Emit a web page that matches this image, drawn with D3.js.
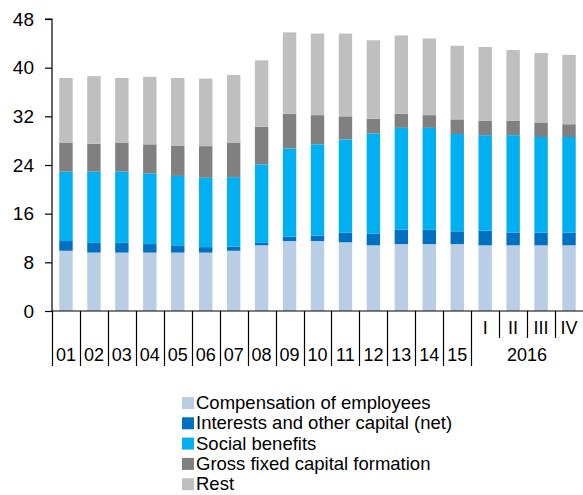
<!DOCTYPE html>
<html>
<head>
<meta charset="utf-8">
<script src="https://cdn.jsdelivr.net/npm/d3@7"></script>
<style>
  body { margin: 0; background: #fff; }
  svg text { font-family: "Liberation Sans", Arial, sans-serif; fill: #000; }
</style>
</head>
<body>
<div id="chart"></div>
<script>
// categories: years 2001-2015, then 2016 quarters
const categories = ["01", "02", "03", "04", "05", "06", "07", "08", "09", "10", "11", "12", "13", "14", "15", "I", "II", "III", "IV"];
const yearLabels = ["01", "02", "03", "04", "05", "06", "07", "08", "09", "10", "11", "12", "13", "14", "15"];
const quarterLabels = ["I", "II", "III", "IV"];
const quarterYear = "2016";
const yTicks = [0, 8, 16, 24, 32, 40, 48];

const compensation = [9.9, 9.6, 9.6, 9.6, 9.6, 9.6, 9.9, 10.8, 11.5, 11.5, 11.3, 10.8, 11.0, 11.0, 11.0, 10.8, 10.8, 10.8, 10.8];
const interests = [1.6, 1.6, 1.6, 1.4, 1.1, 0.9, 0.7, 0.4, 0.7, 0.9, 1.6, 1.9, 2.4, 2.4, 2.1, 2.4, 2.1, 2.1, 2.1];
const socialBenefits = [11.4, 11.7, 11.7, 11.6, 11.5, 11.4, 11.4, 12.9, 14.5, 15.0, 15.3, 16.5, 16.7, 16.7, 16.0, 15.7, 16.0, 15.7, 15.7];
const gfcf = [4.8, 4.6, 4.8, 4.8, 5.0, 5.2, 5.7, 6.2, 5.7, 4.8, 3.8, 2.4, 2.3, 2.1, 2.4, 2.4, 2.4, 2.4, 2.1];
const rest = [10.6, 11.1, 10.6, 11.1, 11.1, 11.1, 11.1, 10.9, 13.4, 13.4, 13.6, 12.9, 12.9, 12.6, 12.1, 12.1, 11.6, 11.4, 11.4];

const seriesNames = ["Compensation of employees", "Interests and other capital (net)", "Social benefits", "Gross fixed capital formation", "Rest"];
const seriesValues = [compensation, interests, socialBenefits, gfcf, rest];
const colors = ["#b9cde5", "#0070c0", "#00b0f0", "#808080", "#bfbfbf"];

const width = 583, height = 495;
const plotLeft = 52, plotRight = 583, plotTop = 19, plotBottom = 311;

const svg = d3.select("#chart").append("svg")
  .attr("width", width)
  .attr("height", height);

const rows = categories.map((c, i) => {
  const row = { cat: c };
  seriesNames.forEach((s, k) => { row[s] = seriesValues[k][i]; });
  return row;
});
const stacked = d3.stack().keys(seriesNames)(rows);

const x = d3.scaleBand().domain(categories).range([plotLeft, plotRight]).paddingInner(0.52).paddingOuter(0.26);
const xb = d3.scaleBand().domain(categories).range([plotLeft, plotRight]).padding(0);
const y = d3.scaleLinear().domain([0, 48]).range([plotBottom, plotTop]);

// bars
svg.append("g")
  .selectAll("g")
  .data(stacked)
  .join("g")
  .attr("fill", (d, i) => colors[i])
  .selectAll("rect")
  .data(d => d)
  .join("rect")
  .attr("x", d => x(d.data.cat))
  .attr("width", x.bandwidth())
  .attr("y", d => y(d[1]))
  .attr("height", d => y(d[0]) - y(d[1]));

// y axis
const yAxis = svg.append("g")
  .attr("transform", `translate(${plotLeft},0)`)
  .call(d3.axisLeft(y).tickValues(yTicks).tickSize(7).tickPadding(11));
yAxis.select(".domain").attr("stroke", "#000").attr("stroke-width", 1.2)
  .attr("d", `M-7,${plotTop}H0V${plotBottom}`);
yAxis.selectAll(".tick line").attr("stroke", "#000").attr("stroke-width", 1.2);
yAxis.selectAll(".tick text").attr("font-size", 19).style("font-family", "Liberation Sans, Arial, sans-serif");

// x axis line
svg.append("line")
  .attr("x1", plotLeft).attr("x2", plotRight)
  .attr("y1", plotBottom).attr("y2", plotBottom)
  .attr("stroke", "#000").attr("stroke-width", 1.2);

// category separators: long for years, short between quarters
const yearCount = yearLabels.length;
const boundaries = categories.map((c, i) => ({ pos: xb(c), long: i <= yearCount }));
svg.append("g")
  .selectAll("line")
  .data(boundaries)
  .join("line")
  .attr("x1", d => Math.round(d.pos) + 0.5)
  .attr("x2", d => Math.round(d.pos) + 0.5)
  .attr("y1", plotBottom)
  .attr("y2", d => d.long ? 366 : 338)
  .attr("stroke", "#000")
  .attr("stroke-width", 1.2);

// year labels
svg.append("g")
  .selectAll("text")
  .data(yearLabels)
  .join("text")
  .attr("x", d => xb(d) + xb.bandwidth() / 2)
  .attr("y", 361)
  .attr("text-anchor", "middle")
  .attr("font-size", 18)
  .text(d => d);

// quarter labels
svg.append("g")
  .selectAll("text")
  .data(quarterLabels)
  .join("text")
  .attr("x", d => xb(d) + xb.bandwidth() / 2)
  .attr("y", 334)
  .attr("text-anchor", "middle")
  .attr("font-size", 18)
  .text(d => d);

svg.append("text")
  .attr("x", (xb(quarterLabels[0]) + plotRight) / 2)
  .attr("y", 361)
  .attr("text-anchor", "middle")
  .attr("font-size", 18)
  .text(quarterYear);

// legend
const legend = svg.append("g").attr("transform", "translate(182,409)");
const item = legend.selectAll("g")
  .data(seriesNames)
  .join("g")
  .attr("transform", (d, i) => `translate(0,${i * 20.3})`);
item.append("rect")
  .attr("y", -12)
  .attr("width", 12).attr("height", 12)
  .attr("fill", (d, i) => colors[i]);
item.append("text")
  .attr("x", 14)
  .attr("y", 0)
  .attr("font-size", 18.5)
  .text(d => d);
</script>
</body>
</html>
